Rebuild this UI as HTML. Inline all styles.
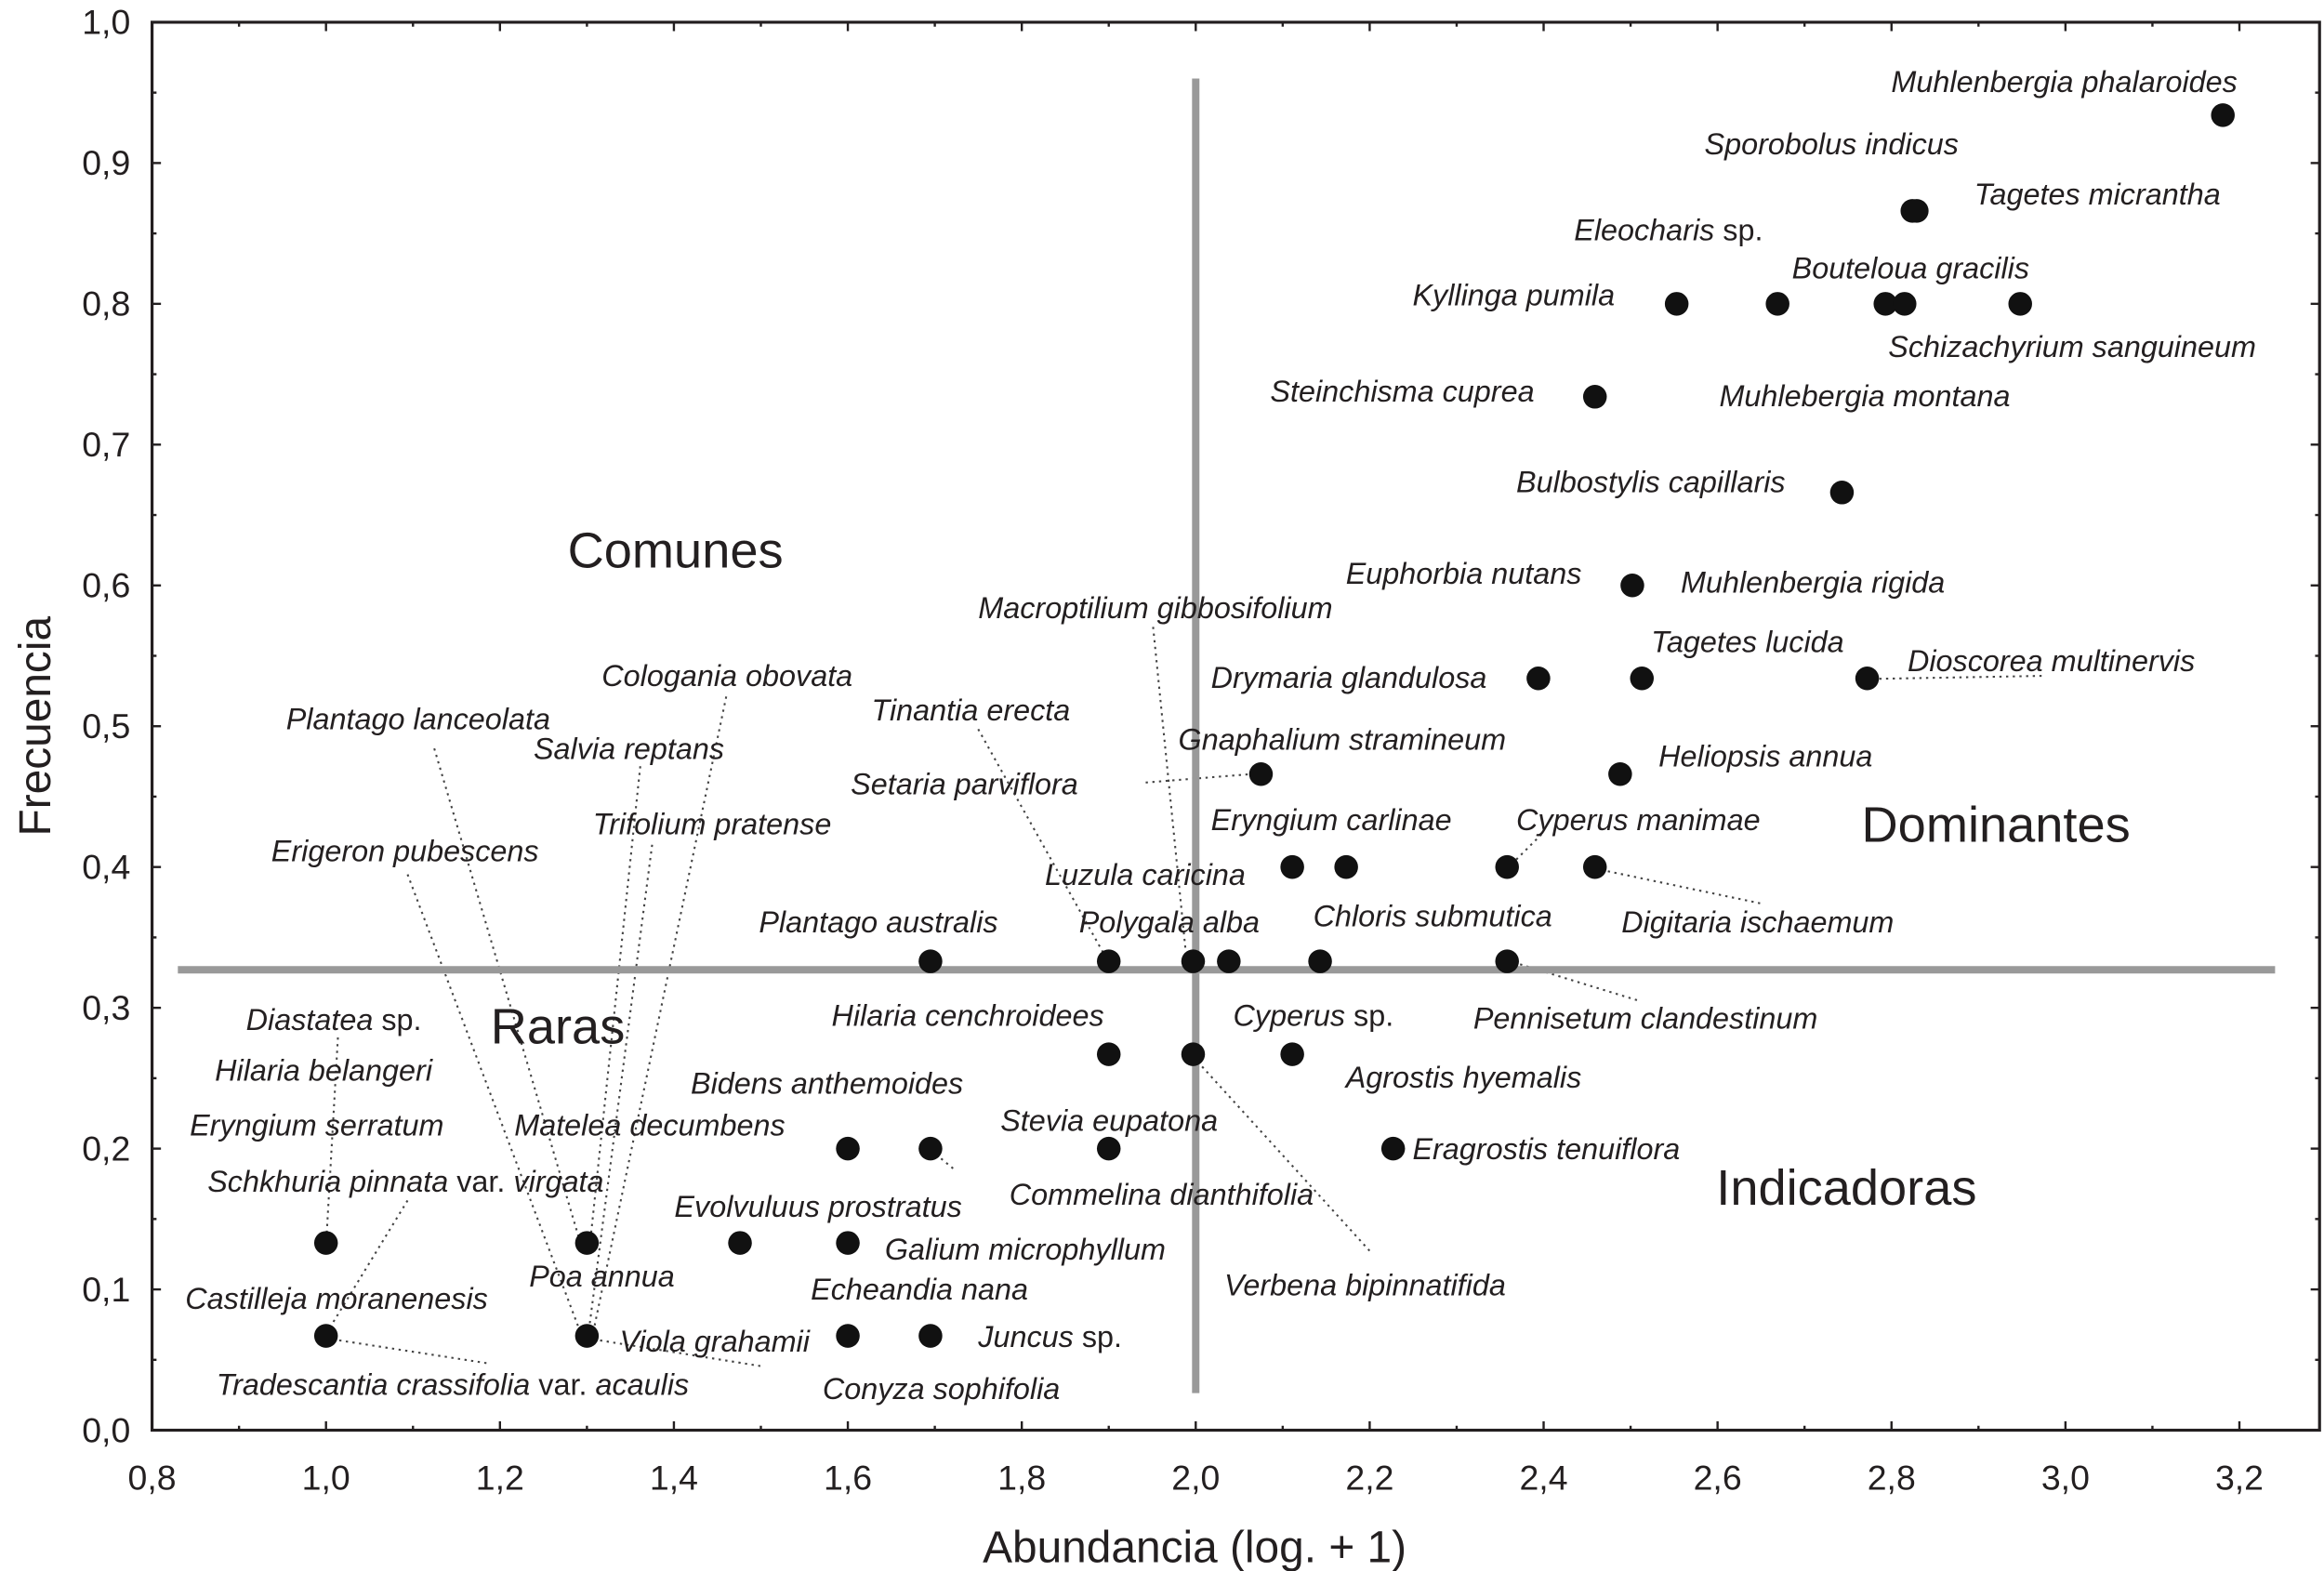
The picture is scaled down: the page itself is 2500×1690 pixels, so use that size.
<!DOCTYPE html>
<html><head><meta charset="utf-8"><style>
html,body{margin:0;padding:0;background:#fff}
svg{display:block}
text{font-family:"Liberation Sans",sans-serif;fill:#231f20}
.lb{font-size:20.3px;font-style:italic}
.lb tspan.n{font-style:normal}
.tk{font-size:23.5px}
.q{font-size:34px}
</style></head><body>
<svg id="chart" width="2500" height="1690" viewBox="0 0 1568 1060" preserveAspectRatio="none" xmlns="http://www.w3.org/2000/svg">
<g id="leaders" stroke="#444" stroke-width="1.3" stroke-dasharray="1.5,3" fill="none">
<line x1="1268" y1="458" x2="1380" y2="456"/>
<line x1="773" y1="528" x2="848" y2="522"/>
<line x1="778" y1="423" x2="800" y2="642"/>
<line x1="660" y1="492" x2="745" y2="644"/>
<line x1="1040" y1="563" x2="1017" y2="586"/>
<line x1="1076" y1="586" x2="1190" y2="610"/>
<line x1="1017" y1="648" x2="1105" y2="675"/>
<line x1="805" y1="713" x2="925" y2="845"/>
<line x1="628" y1="776" x2="645" y2="790"/>
<line x1="293" y1="505" x2="392" y2="840"/>
<line x1="490" y1="470" x2="400" y2="900"/>
<line x1="432" y1="517" x2="398" y2="840"/>
<line x1="440" y1="570" x2="397" y2="900"/>
<line x1="275" y1="590" x2="392" y2="900"/>
<line x1="228" y1="700" x2="220" y2="840"/>
<line x1="275" y1="810" x2="220" y2="900"/>
<line x1="220" y1="903" x2="330" y2="920"/>
<line x1="396" y1="903" x2="515" y2="922"/>
</g>
<g id="plot"></g>
<g id="labels">
<text class="lb" x="1276" y="62">Muhlenbergia phalaroides</text>
<text class="lb" x="1150" y="104">Sporobolus indicus</text>
<text class="lb" x="1332" y="138">Tagetes micrantha</text>
<text class="lb" x="1062" y="162">Eleocharis <tspan class="n">sp.</tspan></text>
<text class="lb" x="1209" y="188">Bouteloua gracilis</text>
<text class="lb" x="953" y="206">Kyllinga pumila</text>
<text class="lb" x="1274" y="241">Schizachyrium sanguineum</text>
<text class="lb" x="857" y="271">Steinchisma cuprea</text>
<text class="lb" x="1160" y="274">Muhlebergia montana</text>
<text class="lb" x="1023" y="332">Bulbostylis capillaris</text>
<text class="lb" x="908" y="394">Euphorbia nutans</text>
<text class="lb" x="1134" y="400">Muhlenbergia rigida</text>
<text class="lb" x="660" y="417">Macroptilium gibbosifolium</text>
<text class="lb" x="1114" y="440">Tagetes lucida</text>
<text class="lb" x="1287" y="453">Dioscorea multinervis</text>
<text class="lb" x="817" y="464">Drymaria glandulosa</text>
<text class="lb" x="406" y="463">Cologania obovata</text>
<text class="lb" x="193" y="492">Plantago lanceolata</text>
<text class="lb" x="588" y="486">Tinantia erecta</text>
<text class="lb" x="795" y="506">Gnaphalium stramineum</text>
<text class="lb" x="360" y="512">Salvia reptans</text>
<text class="lb" x="1119" y="517">Heliopsis annua</text>
<text class="lb" x="574" y="536">Setaria parviflora</text>
<text class="lb" x="817" y="560">Eryngium carlinae</text>
<text class="lb" x="1023" y="560">Cyperus manimae</text>
<text class="lb" x="400" y="563">Trifolium pratense</text>
<text class="lb" x="183" y="581">Erigeron pubescens</text>
<text class="lb" x="705" y="597">Luzula caricina</text>
<text class="lb" x="886" y="625">Chloris submutica</text>
<text class="lb" x="1094" y="629">Digitaria ischaemum</text>
<text class="lb" x="512" y="629">Plantago australis</text>
<text class="lb" x="728" y="629">Polygala alba</text>
<text class="lb" x="994" y="694">Pennisetum clandestinum</text>
<text class="lb" x="561" y="692">Hilaria cenchroidees</text>
<text class="lb" x="832" y="692">Cyperus <tspan class="n">sp.</tspan></text>
<text class="lb" x="166" y="695">Diastatea <tspan class="n">sp.</tspan></text>
<text class="lb" x="145" y="729">Hilaria belangeri</text>
<text class="lb" x="908" y="734">Agrostis hyemalis</text>
<text class="lb" x="466" y="738">Bidens anthemoides</text>
<text class="lb" x="128" y="766">Eryngium serratum</text>
<text class="lb" x="347" y="766">Matelea decumbens</text>
<text class="lb" x="675" y="763">Stevia eupatona</text>
<text class="lb" x="953" y="782">Eragrostis tenuiflora</text>
<text class="lb" x="140" y="804">Schkhuria pinnata <tspan class="n">var.</tspan> virgata</text>
<text class="lb" x="681" y="813">Commelina dianthifolia</text>
<text class="lb" x="455" y="821">Evolvuluus prostratus</text>
<text class="lb" x="597" y="850">Galium microphyllum</text>
<text class="lb" x="357" y="868">Poa annua</text>
<text class="lb" x="547" y="877">Echeandia nana</text>
<text class="lb" x="826" y="874">Verbena bipinnatifida</text>
<text class="lb" x="125" y="883">Castilleja moranenesis</text>
<text class="lb" x="418" y="912">Viola grahamii</text>
<text class="lb" x="660" y="909">Juncus <tspan class="n">sp.</tspan></text>
<text class="lb" x="146" y="941">Tradescantia crassifolia <tspan class="n">var.</tspan> acaulis</text>
<text class="lb" x="555" y="944">Conyza sophifolia</text>
</g>
<g>
<text class="q" x="383" y="383">Comunes</text>
<text class="q" x="1256" y="568">Dominantes</text>
<text class="q" x="331" y="704">Raras</text>
<text class="q" x="1158" y="813">Indicadoras</text>
</g>
<text x="806" y="1054" text-anchor="middle" style="font-size:30px">Abundancia (log. + 1)</text>
<text transform="translate(34,490) rotate(-90)" text-anchor="middle" style="font-size:30px">Frecuencia</text>
</svg>
<script>
const xs = [3.181,2.824,2.829,2.553,2.669,2.793,2.815,2.948,2.459,2.743,2.502,2.394,2.513,2.772,2.488,2.075,2.111,2.173,2.358,2.459,1.695,1.9,1.997,2.038,2.143,2.358,1.9,1.997,2.111,1.6,1.695,1.9,2.227,1.0,1.3,1.476,1.6,1.0,1.3,1.6,1.695];
const ys = [0.934,0.866,0.866,0.8,0.8,0.8,0.8,0.8,0.734,0.666,0.6,0.534,0.534,0.534,0.466,0.466,0.4,0.4,0.4,0.4,0.333,0.333,0.333,0.333,0.333,0.333,0.267,0.267,0.267,0.2,0.2,0.2,0.2,0.133,0.133,0.133,0.133,0.067,0.067,0.067,0.067];
const xTicks = ["0,8","1,0","1,2","1,4","1,6","1,8","2,0","2,2","2,4","2,6","2,8","3,0","3,2"];
const yTicks = ["0,0","0,1","0,2","0,3","0,4","0,5","0,6","0,7","0,8","0,9","1,0"];
const xTickVals = [0.8,1.0,1.2,1.4,1.6,1.8,2.0,2.2,2.4,2.6,2.8,3.0,3.2];
const yTickVals = [0,0.1,0.2,0.3,0.4,0.5,0.6,0.7,0.8,0.9,1.0];
const refX = [2.0];
const refY = [0.327];

const L=102.6,R=1565,T=15,B=965;
const X=v=>L+(v-0.8)*586.8;
const Y=v=>B-950*v;
const NS="http://www.w3.org/2000/svg";
const g=document.getElementById('plot');
function mk(tag,attrs){const e=document.createElementNS(NS,tag);for(const k in attrs)e.setAttribute(k,attrs[k]);g.appendChild(e);return e;}

let vl=mk('line',{x1:X(refX[0]),x2:X(refX[0]),y1:53,y2:940,stroke:'#999','stroke-width':5});


let hl=mk('line',{x1:120,x2:1535,y1:Y(refY[0]),y2:Y(refY[0]),stroke:'#999','stroke-width':5});



let box=mk('rect',{x:L,y:T,width:R-L,height:B-T,fill:'none',stroke:'#231f20','stroke-width':2});



for(let v=0.8;v<=3.25;v+=0.1){
  const major=Math.round(v*10)%2===0;
  const len=major?6:3;
  mk('line',{x1:X(v),x2:X(v),y1:B,y2:B-len,stroke:'#231f20','stroke-width':1.5});
  mk('line',{x1:X(v),x2:X(v),y1:T,y2:T+len,stroke:'#231f20','stroke-width':1.5});
}
for(let v=0;v<=1.001;v+=0.05){
  const major=Math.round(v*20)%2===0;
  const len=major?6:3;
  mk('line',{x1:L,x2:L+len,y1:Y(v),y2:Y(v),stroke:'#231f20','stroke-width':1.5});
  mk('line',{x1:R,x2:R-len,y1:Y(v),y2:Y(v),stroke:'#231f20','stroke-width':1.5});
}
xTicks.forEach((t,i)=>{
  const e=mk('text',{x:X(xTickVals[i]),y:1005,'text-anchor':'middle','class':'tk'});
  e.textContent=t;
  
  
});
yTicks.forEach((t,i)=>{
  const e=mk('text',{x:88,y:Y(yTickVals[i])+8,'text-anchor':'end','class':'tk'});
  e.textContent=t;
  
  
});
xs.forEach((x,i)=>{
  const c=mk('circle',{cx:X(x),cy:Y(ys[i]),r:8,fill:'#111'});
  
  
});
</script>
</body></html>
